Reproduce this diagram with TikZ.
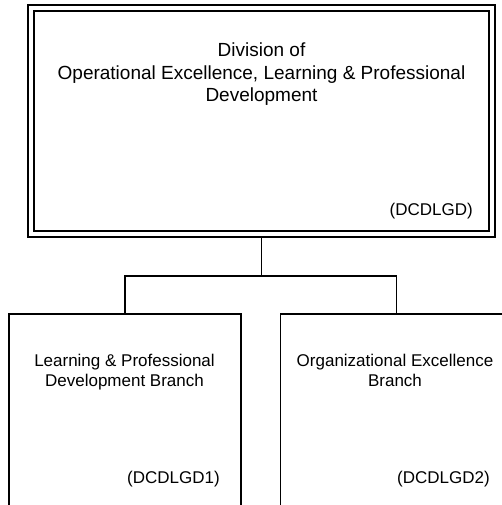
\documentclass[tikz,border=0pt]{standalone}
\usepackage{fontspec}
\setmainfont{Liberation Sans}
\usetikzlibrary{positioning, calc}

\begin{document}
\begin{tikzpicture}[x=1pt, y=-1pt, font=\fontsize{17}{20}\selectfont,
    divbox/.style={draw, double, line width=1.8pt, double distance=4pt, outer sep=3.8pt,
        minimum width=461pt, minimum height=226pt, inner sep=0pt},
    branch/.style={draw, line width=1.8pt, minimum width=232pt, minimum height=226pt, inner sep=0pt},
    title/.style={align=center, inner sep=0pt, anchor=north},
    code/.style={inner sep=0pt, anchor=base east},
    link/.style={line width=1.6pt}
]
    \useasboundingbox (0,0) rectangle (502,505);
    % boxes
    \node[divbox] (div) at (261.5,121) {};
    \node[branch] (lpd) at (125,426.7) {};
    \node[branch] (oeb) at (396.4,426.7) {};
    % texts
    \node[title, font=\fontsize{19}{22.5}\selectfont] (divt) at (261.5,42.9)
        {Division of\\Operational Excellence, Learning \& Professional\\Development};
    \node[code] (divc) at (473,215) {(DCDLGD)};
    \node[title] (lpdt) at (124.5,353.6) {Learning \& Professional\\Development Branch};
    \node[code] (lpdc) at (220,483) {(DCDLGD1)};
    \node[title] (oebt) at (395,353.5) {Organizational Excellence\\Branch};
    \node[code] (oebc) at (490,483) {(DCDLGD2)};
    % connectors
    \draw[link] (div.south) -- ++(0,38) coordinate (jn);
    \draw[link] (jn) -| (lpd.north);
    \draw[link] (jn) -| (oeb.north);
\end{tikzpicture}
\end{document}
